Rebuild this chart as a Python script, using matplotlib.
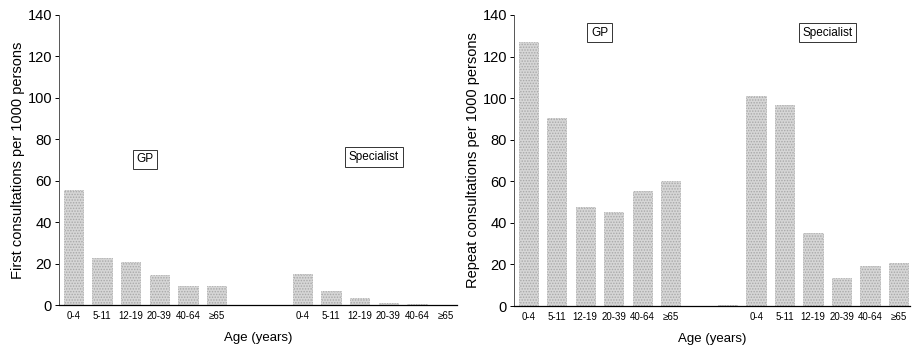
import numpy as np
import matplotlib
matplotlib.use("Agg")
import matplotlib.pyplot as plt

# ---- data ---------------------------------------------------------------
ages = ["0-4", "5-11", "12-19", "20-39", "40-64", "≥65"]

first_gp = [55.5, 23, 20.7, 14.6, 9.5, 9.5]
first_spec = [15, 7, 3.4, 1.0, 0.7, 0.3]
first_blank = [0.3, 0.4]

repeat_gp = [127, 90.5, 47.5, 45, 55.3, 60]
repeat_spec = [101, 96.7, 35, 13.3, 19.4, 20.8]
repeat_blank = [0.0, 0.3]

# ---- style --------------------------------------------------------------
plt.rcParams.update({
    "font.family": ["Liberation Sans", "DejaVu Sans"],
    "hatch.linewidth": 0.7,
    "hatch.color": "#909090",
})

BAR_W = 0.68
GP_POS = np.arange(6)
BLANK_POS = np.array([6, 7])
SPEC_POS = np.arange(8, 14)


def bars(ax, pos, vals):
    ax.bar(pos, vals, width=BAR_W, color="#d6d6d6", edgecolor="#a8a8a8",
           linewidth=0.6, linestyle=(0, (1, 1)), hatch="......", zorder=2)


def panel(ax, gp, spec, blank, ylabel, gp_xy, spec_xy):
    bars(ax, GP_POS, gp)
    bars(ax, BLANK_POS, blank)
    bars(ax, SPEC_POS, spec)
    ax.set_xlim(-0.5, 13.4)
    ax.set_ylim(0, 140)
    ax.set_yticks(range(0, 141, 20))
    ax.set_xticks(np.concatenate([GP_POS, SPEC_POS]))
    ax.set_xticklabels(ages + ages, fontsize=7)
    ax.tick_params(axis="x", length=0, pad=4)
    ax.tick_params(axis="y", labelsize=10.5, length=3, width=0.7, pad=2)
    for s in ("top", "right"):
        ax.spines[s].set_visible(False)
    ax.spines["left"].set_linewidth(0.7)
    ax.spines["left"].set_color("#555555")
    ax.spines["bottom"].set_linewidth(0.9)
    ax.set_ylabel(ylabel, fontsize=10.5, labelpad=2)
    ax.set_xlabel("Age (years)", fontsize=9.5, labelpad=8)
    box = dict(boxstyle="square,pad=0.3", facecolor="white",
               edgecolor="#333333", linewidth=0.7)
    ax.text(*gp_xy, "GP", fontsize=8.5, ha="center", va="center", bbox=box)
    ax.text(*spec_xy, "Specialist", fontsize=8.5, ha="center", va="center",
            bbox=box)


fig = plt.figure(figsize=(9.14, 3.47), dpi=100)
ax1 = fig.add_axes([0.0646, 0.12, 0.4354, 0.837])
ax2 = fig.add_axes([0.5624, 0.118, 0.4332, 0.839])

panel(ax1, first_gp, first_spec, first_blank,
      "First consultations per 1000 persons", (2.5, 70.5), (10.5, 71.5))
panel(ax2, repeat_gp, repeat_spec, repeat_blank,
      "Repeat consultations per 1000 persons", (2.5, 131.5), (10.5, 131.5))

fig.savefig("out.png", dpi=100)
